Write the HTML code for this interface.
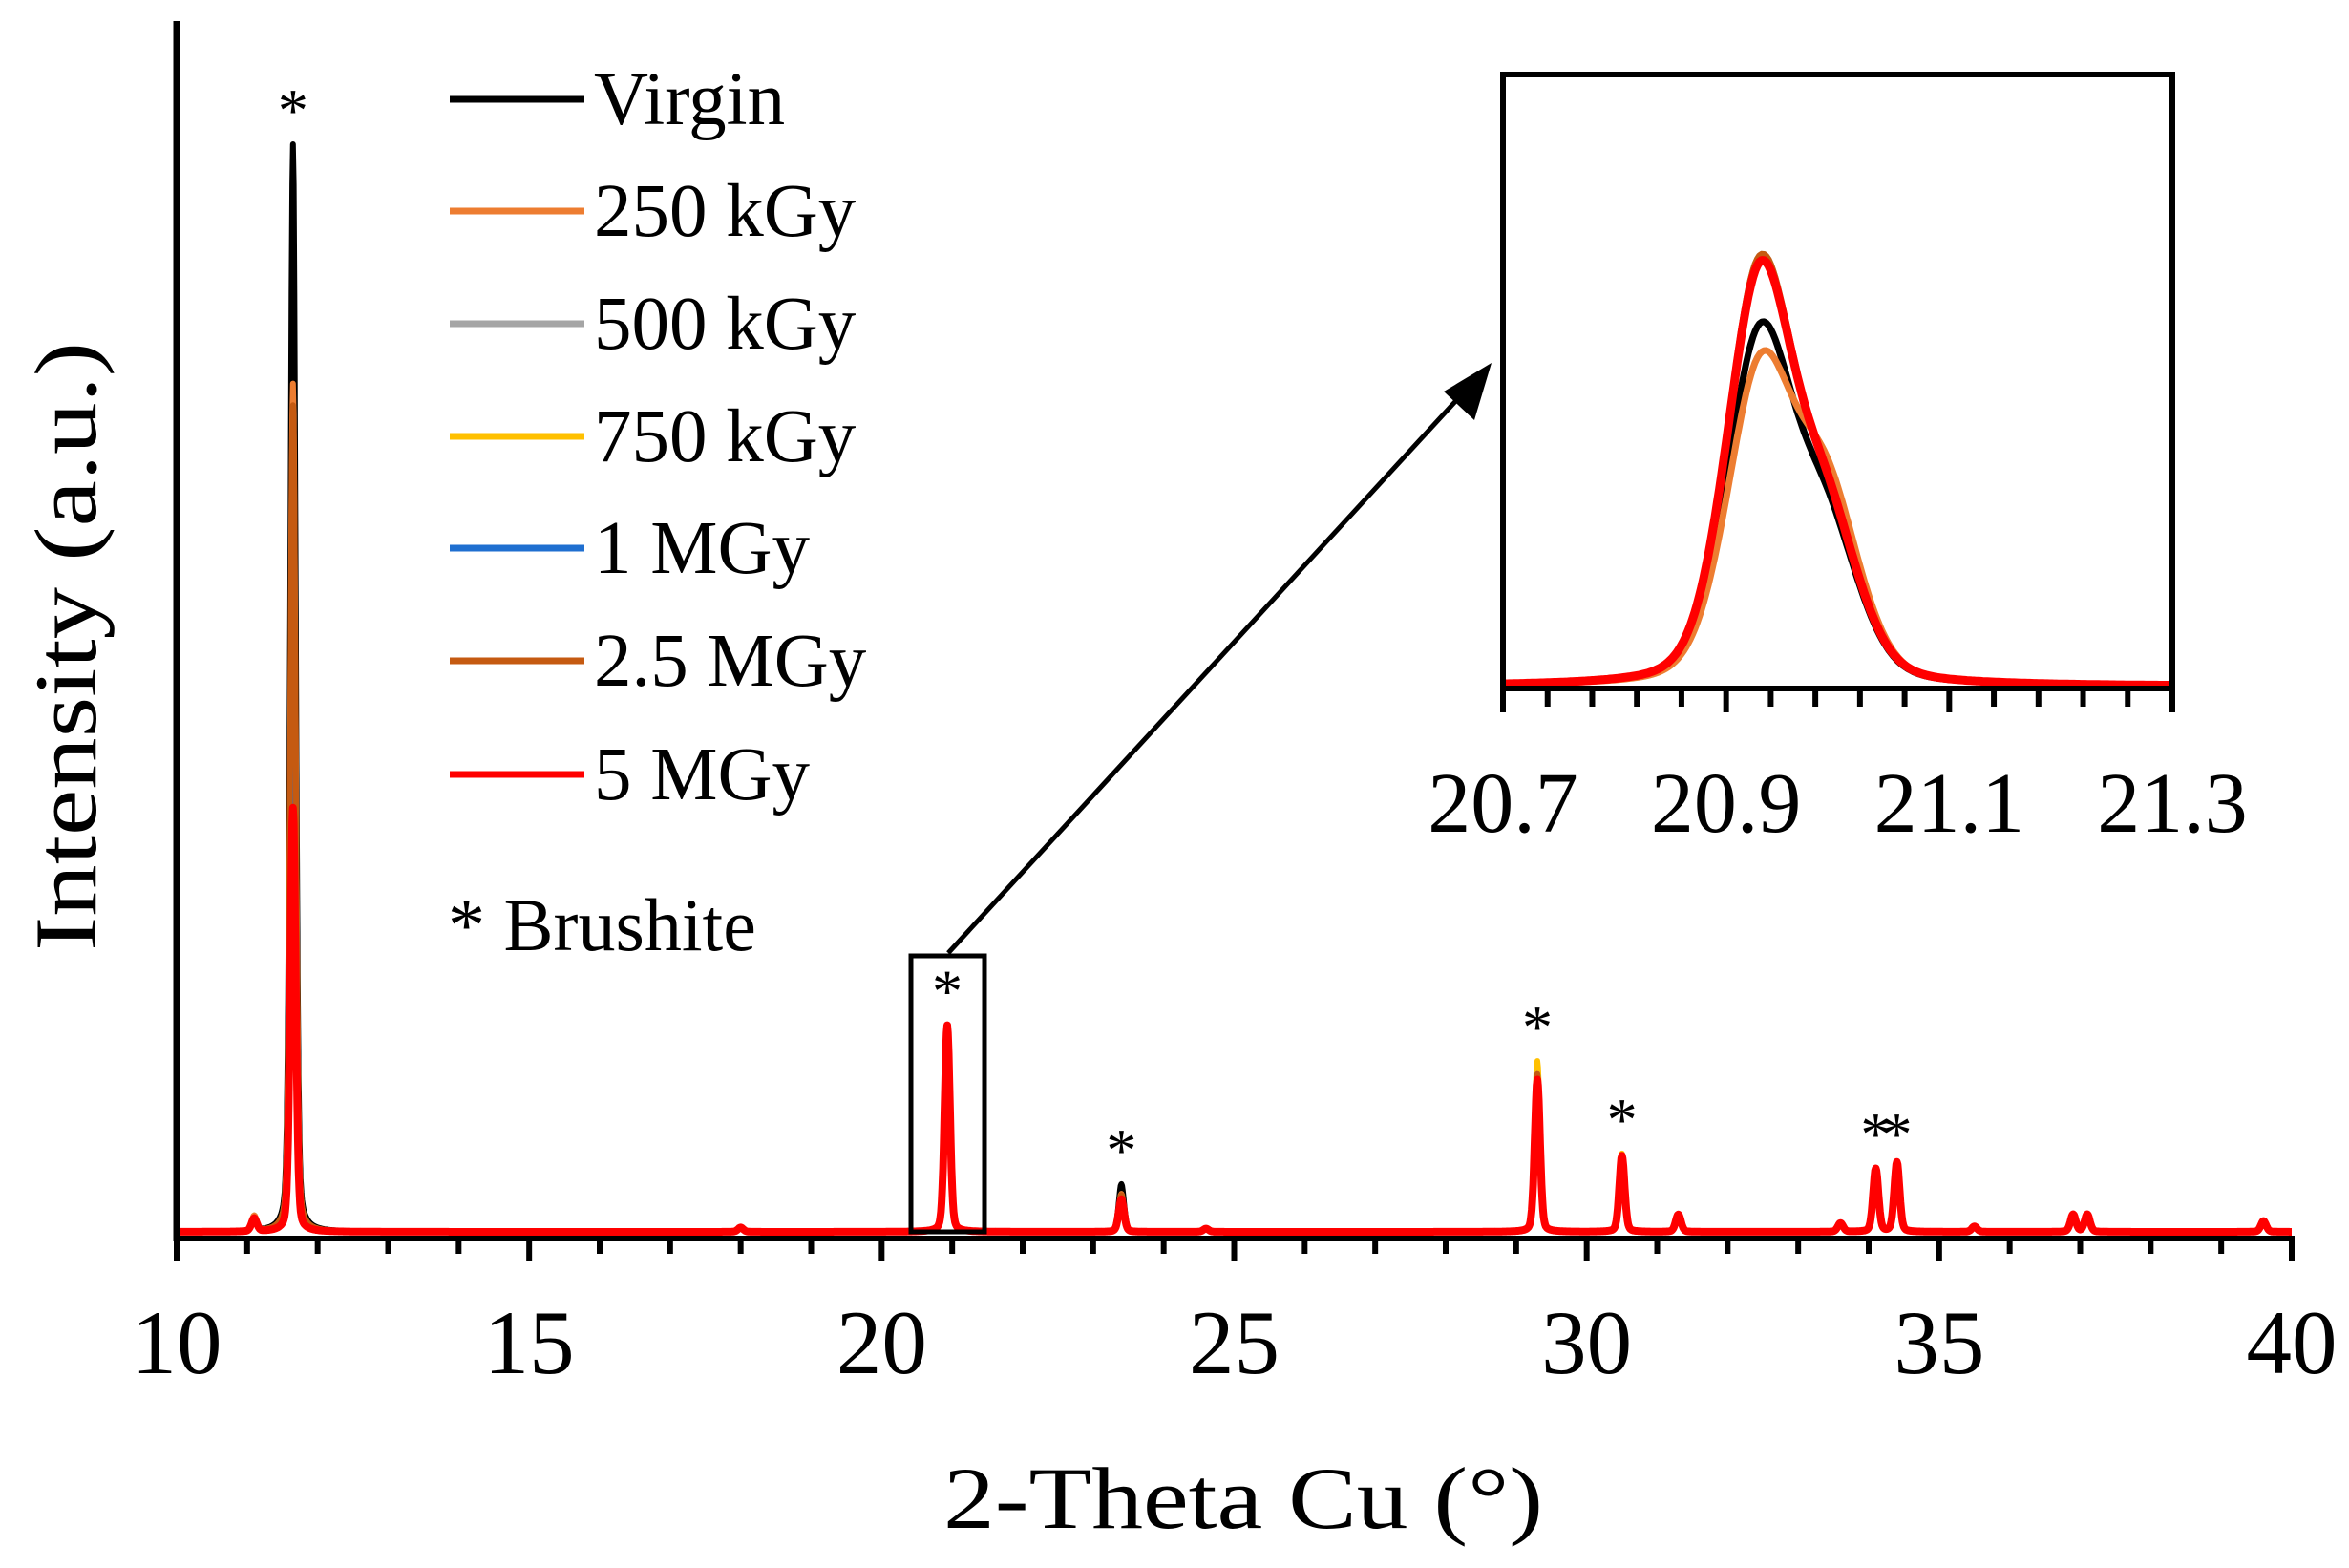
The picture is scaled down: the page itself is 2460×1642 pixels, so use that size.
<!DOCTYPE html>
<html><head><meta charset="utf-8"><style>
html,body{margin:0;padding:0;background:#fff;}
svg{display:block;font-family:"Liberation Serif",serif;}
</style></head><body>
<svg id="chart" width="2460" height="1642" viewBox="0 0 2460 1642" xmlns="http://www.w3.org/2000/svg">
<g id="main-curves"></g>
<g id="inset-curves"></g>
<g id="axes"></g>
<g id="annot"></g>
<g id="legend"></g>
<text x="1302" y="1600" font-size="92" text-anchor="middle" textLength="628" lengthAdjust="spacingAndGlyphs">2-Theta Cu (°)</text>
<text x="0" y="0" font-size="92" text-anchor="middle" transform="translate(100,677) rotate(-90)" textLength="638" lengthAdjust="spacingAndGlyphs">Intensity (a.u.)</text>
</svg>
<script>
// ---- data ----
const seriesNames = ["Virgin","250 kGy","500 kGy","750 kGy","1 MGy","2.5 MGy","5 MGy"];
const seriesColors = ["#000000","#ED7D31","#A5A5A5","#FFC000","#1F6FD0","#C55A11","#FF0000"];
const peakPositions = [11.1, 11.65, 18.0, 20.93, 23.4, 24.6, 29.3, 30.5, 31.3, 33.6, 34.1, 34.4, 35.5, 36.9, 37.1, 39.6];
const peakVirgin = [1.2, 100, 0.4, 17, 4.4, 0.3, 14, 6.5, 1.6, 0.8, 5.6, 5.9, 0.5, 1.6, 1.6, 1.0];
const peak250 =    [1.4, 78, 0.4, 18, 3.5, 0.3, 15, 7.0, 1.6, 0.8, 5.8, 6.4, 0.5, 1.6, 1.6, 1.0];
const peak500 =    [1.2, 70, 0.4, 19, 3.2, 0.3, 15, 7.0, 1.6, 0.8, 5.8, 6.4, 0.5, 1.6, 1.6, 1.0];
const peak750 =    [1.2, 70, 0.4, 19, 3.2, 0.3, 15.7, 7.2, 1.6, 0.8, 5.8, 6.4, 0.5, 1.6, 1.6, 1.0];
const peak1M =     [1.2, 60, 0.4, 19, 3.0, 0.3, 14.5, 7.0, 1.6, 0.8, 5.8, 6.4, 0.5, 1.6, 1.6, 1.0];
const peak25M =    [1.2, 76, 0.4, 19, 3.4, 0.3, 14.5, 7.0, 1.6, 0.8, 5.8, 6.4, 0.5, 1.6, 1.6, 1.0];
const peak5M =     [1.2, 39, 0.4, 19, 3.0, 0.3, 14, 7.0, 1.6, 0.8, 5.8, 6.4, 0.5, 1.6, 1.6, 1.0];
const xTickLabels = ["10","15","20","25","30","35","40"];
// inset: main peak + shoulder heights (% of inset scale)
const insetPeakPos = [20.93, 20.99];
const insetVirgin = [56, 24];
const insetS250 =   [50, 30];
const insetS500 =   [67, 25];
const insetS750 =   [66, 25];
const insetS1M =    [66, 25];
const insetS25M =   [67, 25];
const insetS5M =    [66, 25];
const insetTickLabels = ["20.7","20.9","21.1","21.3"];
const asteriskPositions = [11.65, 20.93, 23.4, 29.3, 30.5, 34.1, 34.4];
const asteriskHeights = [100, 19, 4.4, 15.7, 7.2, 5.9, 5.9];

// ---- scales ----
const X0=185, X1=2400, Y0=1290, K=11.39;
const xs = v => X0 + (v-10)/(40-10)*(X1-X0);
const ys = v => Y0 - v*K;
const IX0=1574, IX1=2275, IY0=719, IY1=84;
const ixs = v => IX0 + (v-20.7)/(0.6)*(IX1-IX0);
const iys = v => IY0 - v/100*(IY0-IY1);
const NS="http://www.w3.org/2000/svg";
function mk(tag, attrs, parent){const e=document.createElementNS(NS,tag);for(const k in attrs)e.setAttribute(k,attrs[k]);parent.appendChild(e);return e;}
function prof(x,c,w){const d=(x-c)/w;return 0.75*Math.exp(-d*d*0.693)+0.25/(1+d*d);}

const mainSets=[peakVirgin,peak250,peak500,peak750,peak1M,peak25M,peak5M];
const gMain=document.getElementById('main-curves');
mainSets.forEach((hs,si)=>{
  let d="";
  for(let x=10;x<=40.0001;x+=0.01){
    let I=0;
    peakPositions.forEach((c,i)=>{I+=hs[i]*prof(x,c,0.045);});
    d+=(d?"L":"M")+xs(x).toFixed(1)+","+ys(I).toFixed(1);
  }
  const p=mk('path',{d:d,fill:'none',stroke:seriesColors[si],'stroke-width':si==6?8:6,'stroke-linejoin':'round'},gMain);
  
  
});

const insetSets=[insetVirgin,insetS250,insetS500,insetS750,insetS1M,insetS25M,insetS5M];
const gIn=document.getElementById('inset-curves');
insetSets.forEach((hs,si)=>{
  let d="";
  for(let x=20.7;x<=21.3001;x+=0.002){
    let I=hs[0]*prof(x,insetPeakPos[0],0.035)+hs[1]*prof(x,insetPeakPos[1],0.035);
    d+=(d?"L":"M")+ixs(x).toFixed(1)+","+iys(I).toFixed(1);
  }
  const p=mk('path',{d:d,fill:'none',stroke:seriesColors[si],'stroke-width':si==6?9:7,'stroke-linejoin':'round'},gIn);
  
  
});

// axes
const gA=document.getElementById('axes');
let e=mk('line',{x1:X0,y1:22,x2:X0,y2:1300,stroke:'#000','stroke-width':7},gA);


e=mk('line',{x1:X0-3,y1:1297,x2:X1+3,y2:1297,stroke:'#000','stroke-width':6},gA);


for(let v=10;v<=40;v++){
  const major=v%5==0;
  e=mk('line',{x1:xs(v),y1:1297,x2:xs(v),y2:major?1320:1313,stroke:'#000','stroke-width':6},gA);
  
  
}
xTickLabels.forEach(t=>{
  const tl=mk('text',{x:xs(+t),y:1438,'font-size':95,'text-anchor':'middle'},gA);
  tl.textContent=t;
  
  
});
// inset frame
e=mk('rect',{x:IX0,y:IY1-6,width:IX1-IX0,height:IY0-IY1+8,fill:'none',stroke:'#000','stroke-width':6},gA);


for(let i=0;i<=15;i++){
  const v=20.7+i*0.04;
  e=mk('line',{x1:ixs(v),y1:IY0,x2:ixs(v),y2:i%5==0?746:740,stroke:'#000','stroke-width':6},gA);
  
  
}
insetTickLabels.forEach(t=>{
  const tl=mk('text',{x:ixs(+t),y:871,'font-size':90,'text-anchor':'middle'},gA);
  tl.textContent=t;
  
  
});

// annotations
const gN=document.getElementById('annot');
asteriskPositions.forEach((p,i)=>{
  const t=mk('text',{x:xs(p),y:ys(asteriskHeights[i])-14,'font-size':64,'text-anchor':'middle'},gN);
  t.textContent='*';
  
  
});
e=mk('rect',{x:954,y:1001,width:77,height:289,fill:'none',stroke:'#000','stroke-width':5},gN);


e=mk('line',{x1:993,y1:998,x2:1530,y2:414,stroke:'#000','stroke-width':5},gN);


e=mk('polygon',{points:'1562,380 1544,440 1512,410',fill:'#000'},gN);



// legend
const gL=document.getElementById('legend');
const rowY=[104,221,339,457,574,692,811];
seriesNames.forEach((n,i)=>{
  const l=mk('line',{x1:471,y1:rowY[i],x2:612,y2:rowY[i],stroke:seriesColors[i],'stroke-width':7},gL);
  
  
  const t=mk('text',{x:622,y:rowY[i]+26,'font-size':79},gL);
  t.textContent=n;
  
  
});
e=mk('text',{x:469,y:995,'font-size':78},gL);
e.textContent='* Brushite';


</script>
</body></html>
